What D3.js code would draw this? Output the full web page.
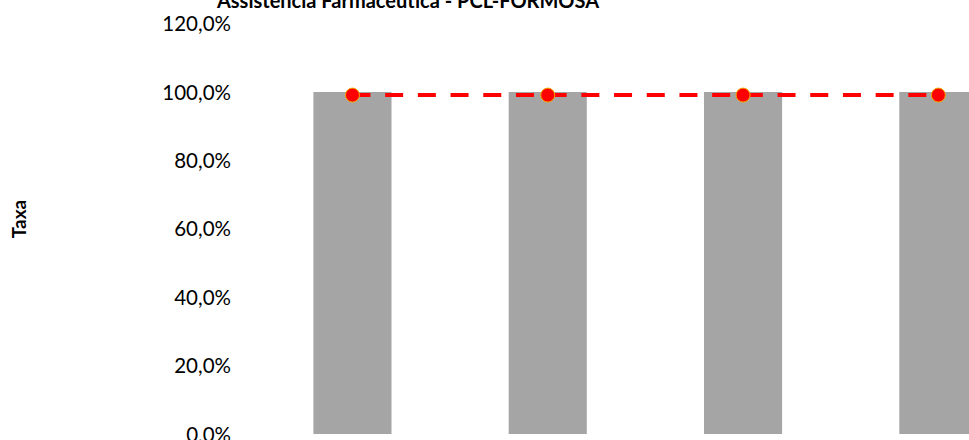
<!DOCTYPE html>
<html><head><meta charset="utf-8">
<script src="https://cdn.jsdelivr.net/npm/d3@7"></script>
<style>html,body{margin:0;padding:0;background:#fff;overflow:hidden}</style>
</head><body>
<svg id="chart" width="969" height="440"></svg>
<script>
const title = "Assistência Farmacêutica - PCL-FORMOSA";
const yAxisTitle = "Taxa";
const categories = ["Período 1", "Período 2", "Período 3", "Período 4"];
const barValues = [100, 100, 100, 100];
const lineValues = [99.1, 99.1, 99.1, 99.1];
const yTicks = [0, 20, 40, 60, 80, 100, 120];

const svg = d3.select("#chart");
const font = "Lato, 'Open Sans', sans-serif";

const y = d3.scaleLinear().domain([0, 120]).range([434, 23.6]);
const x = d3.scaleBand().domain(categories).range([254.8, 1036]).paddingInner(0.6).paddingOuter(0.3);

const loc = d3.formatLocale({decimal: ",", thousands: ".", grouping: [3], currency: ["", ""]});
const fmt = v => loc.format(".1f")(v) + "%";

// bars
svg.append("g").selectAll("rect").data(barValues).join("rect")
  .attr("x", (d, i) => x(categories[i]))
  .attr("width", x.bandwidth())
  .attr("y", d => y(d))
  .attr("height", d => y(0) - y(d))
  .attr("fill", "#A5A5A5");

// line
const line = d3.line().x((d, i) => x(categories[i]) + x.bandwidth() / 2).y(d => y(d));
svg.append("path").datum(lineValues)
  .attr("d", line)
  .attr("fill", "none")
  .attr("stroke", "#FF0000")
  .attr("stroke-width", 4)
  .attr("stroke-dasharray", "18,14.7");

svg.append("g").selectAll("circle").data(lineValues).join("circle")
  .attr("cx", (d, i) => x(categories[i]) + x.bandwidth() / 2)
  .attr("cy", d => y(d))
  .attr("r", 7)
  .attr("fill", "#FF0000")
  .attr("stroke", "#F5A800")
  .attr("stroke-width", 1);

// y axis
const yAxis = d3.axisLeft(y).tickValues(yTicks).tickFormat(fmt).tickSize(0).tickPadding(0);
const gy = svg.append("g").attr("transform", "translate(231,0)").call(yAxis);
gy.select(".domain").remove();
gy.selectAll("text").attr("font-family", font).attr("font-size", 20.5).attr("fill", "#000").attr("dy", "0.35em");

// titles
svg.append("text").attr("x", 408).attr("y", 8).attr("text-anchor", "middle")
  .attr("font-family", font).attr("font-weight", "bold").attr("font-size", 20).attr("fill", "#000")
  .text(title);

svg.append("text").attr("transform", "translate(26,219) rotate(-90)").attr("text-anchor", "middle")
  .attr("font-family", font).attr("font-weight", "bold").attr("font-size", 19).attr("fill", "#000")
  .text(yAxisTitle);
</script>
</body></html>
